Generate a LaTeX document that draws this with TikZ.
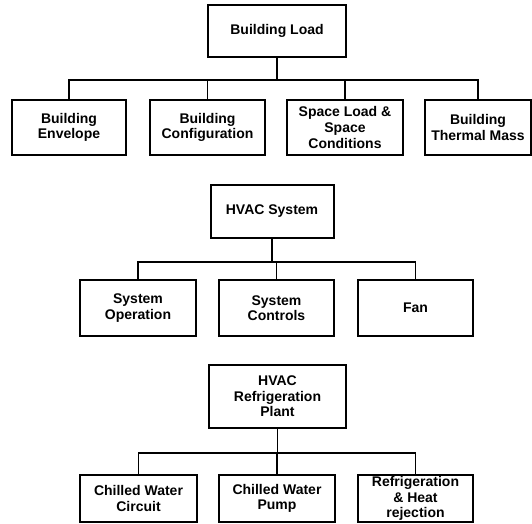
\documentclass[tikz,border=0pt]{standalone}
\usepackage{fontspec}
\setmainfont{Liberation Sans}

\begin{document}
\begin{tikzpicture}[x=1pt,y=-1pt,
    box/.style={draw,line width=2pt,align=center,inner sep=0pt,
      font=\fontsize{14}{15.6}\selectfont\bfseries},
    wire/.style={line width=1.6pt}]
    \useasboundingbox (0,0) rectangle (532,523);
    % building load
    \node[box,minimum width=138,minimum height=52] (load) at (277,31) {Building Load};
    \node[box,minimum width=114,minimum height=55] (env) at (69,127.5) {Building\\Envelope};
    \node[box,minimum width=115,minimum height=55] (cfg) at (207.5,127.5) {Building\\Configuration};
    \node[box,minimum width=116,minimum height=55] (spc) at (345,127.5) {Space Load \&\\Space\\Conditions};
    \node[box,minimum width=106,minimum height=55] (mass) at (478,127.5) {Building\\Thermal Mass};
    \foreach \c in {env,cfg,spc,mass}
      \draw[wire] (load.south) -- ++(0,22) -| (\c.north);
    % hvac system
    \node[box,minimum width=123,minimum height=53] (hvac) at (272,211.5) {HVAC System};
    \node[box,minimum width=116,minimum height=56] (oper) at (138,308) {System\\Operation};
    \node[box,minimum width=115,minimum height=56] (ctrl) at (276.5,308) {System\\Controls};
    \node[box,minimum width=115,minimum height=56] (fan) at (415.5,308) {Fan};
    \foreach \c in {oper,ctrl,fan}
      \draw[wire] (hvac.south) -- ++(0,23) -| (\c.north);
    % refrigeration plant
    \node[box,minimum width=137,minimum height=63] (plant) at (277.5,396.5) {HVAC\\Refrigeration\\Plant};
    \node[box,minimum width=117,minimum height=47] (cwc) at (138.5,498.5) {Chilled Water\\Circuit};
    \node[box,minimum width=116,minimum height=47] (cwp) at (277,498.5) {Chilled Water\\Pump};
    \node[box,minimum width=115,minimum height=47] (rej) at (415.5,498.5) {Refrigeration\\\& Heat\\rejection};
    \foreach \c in {cwc,cwp,rej}
      \draw[wire] (plant.south) -- ++(0,24) -| (\c.north);
  \end{tikzpicture}
\end{document}
